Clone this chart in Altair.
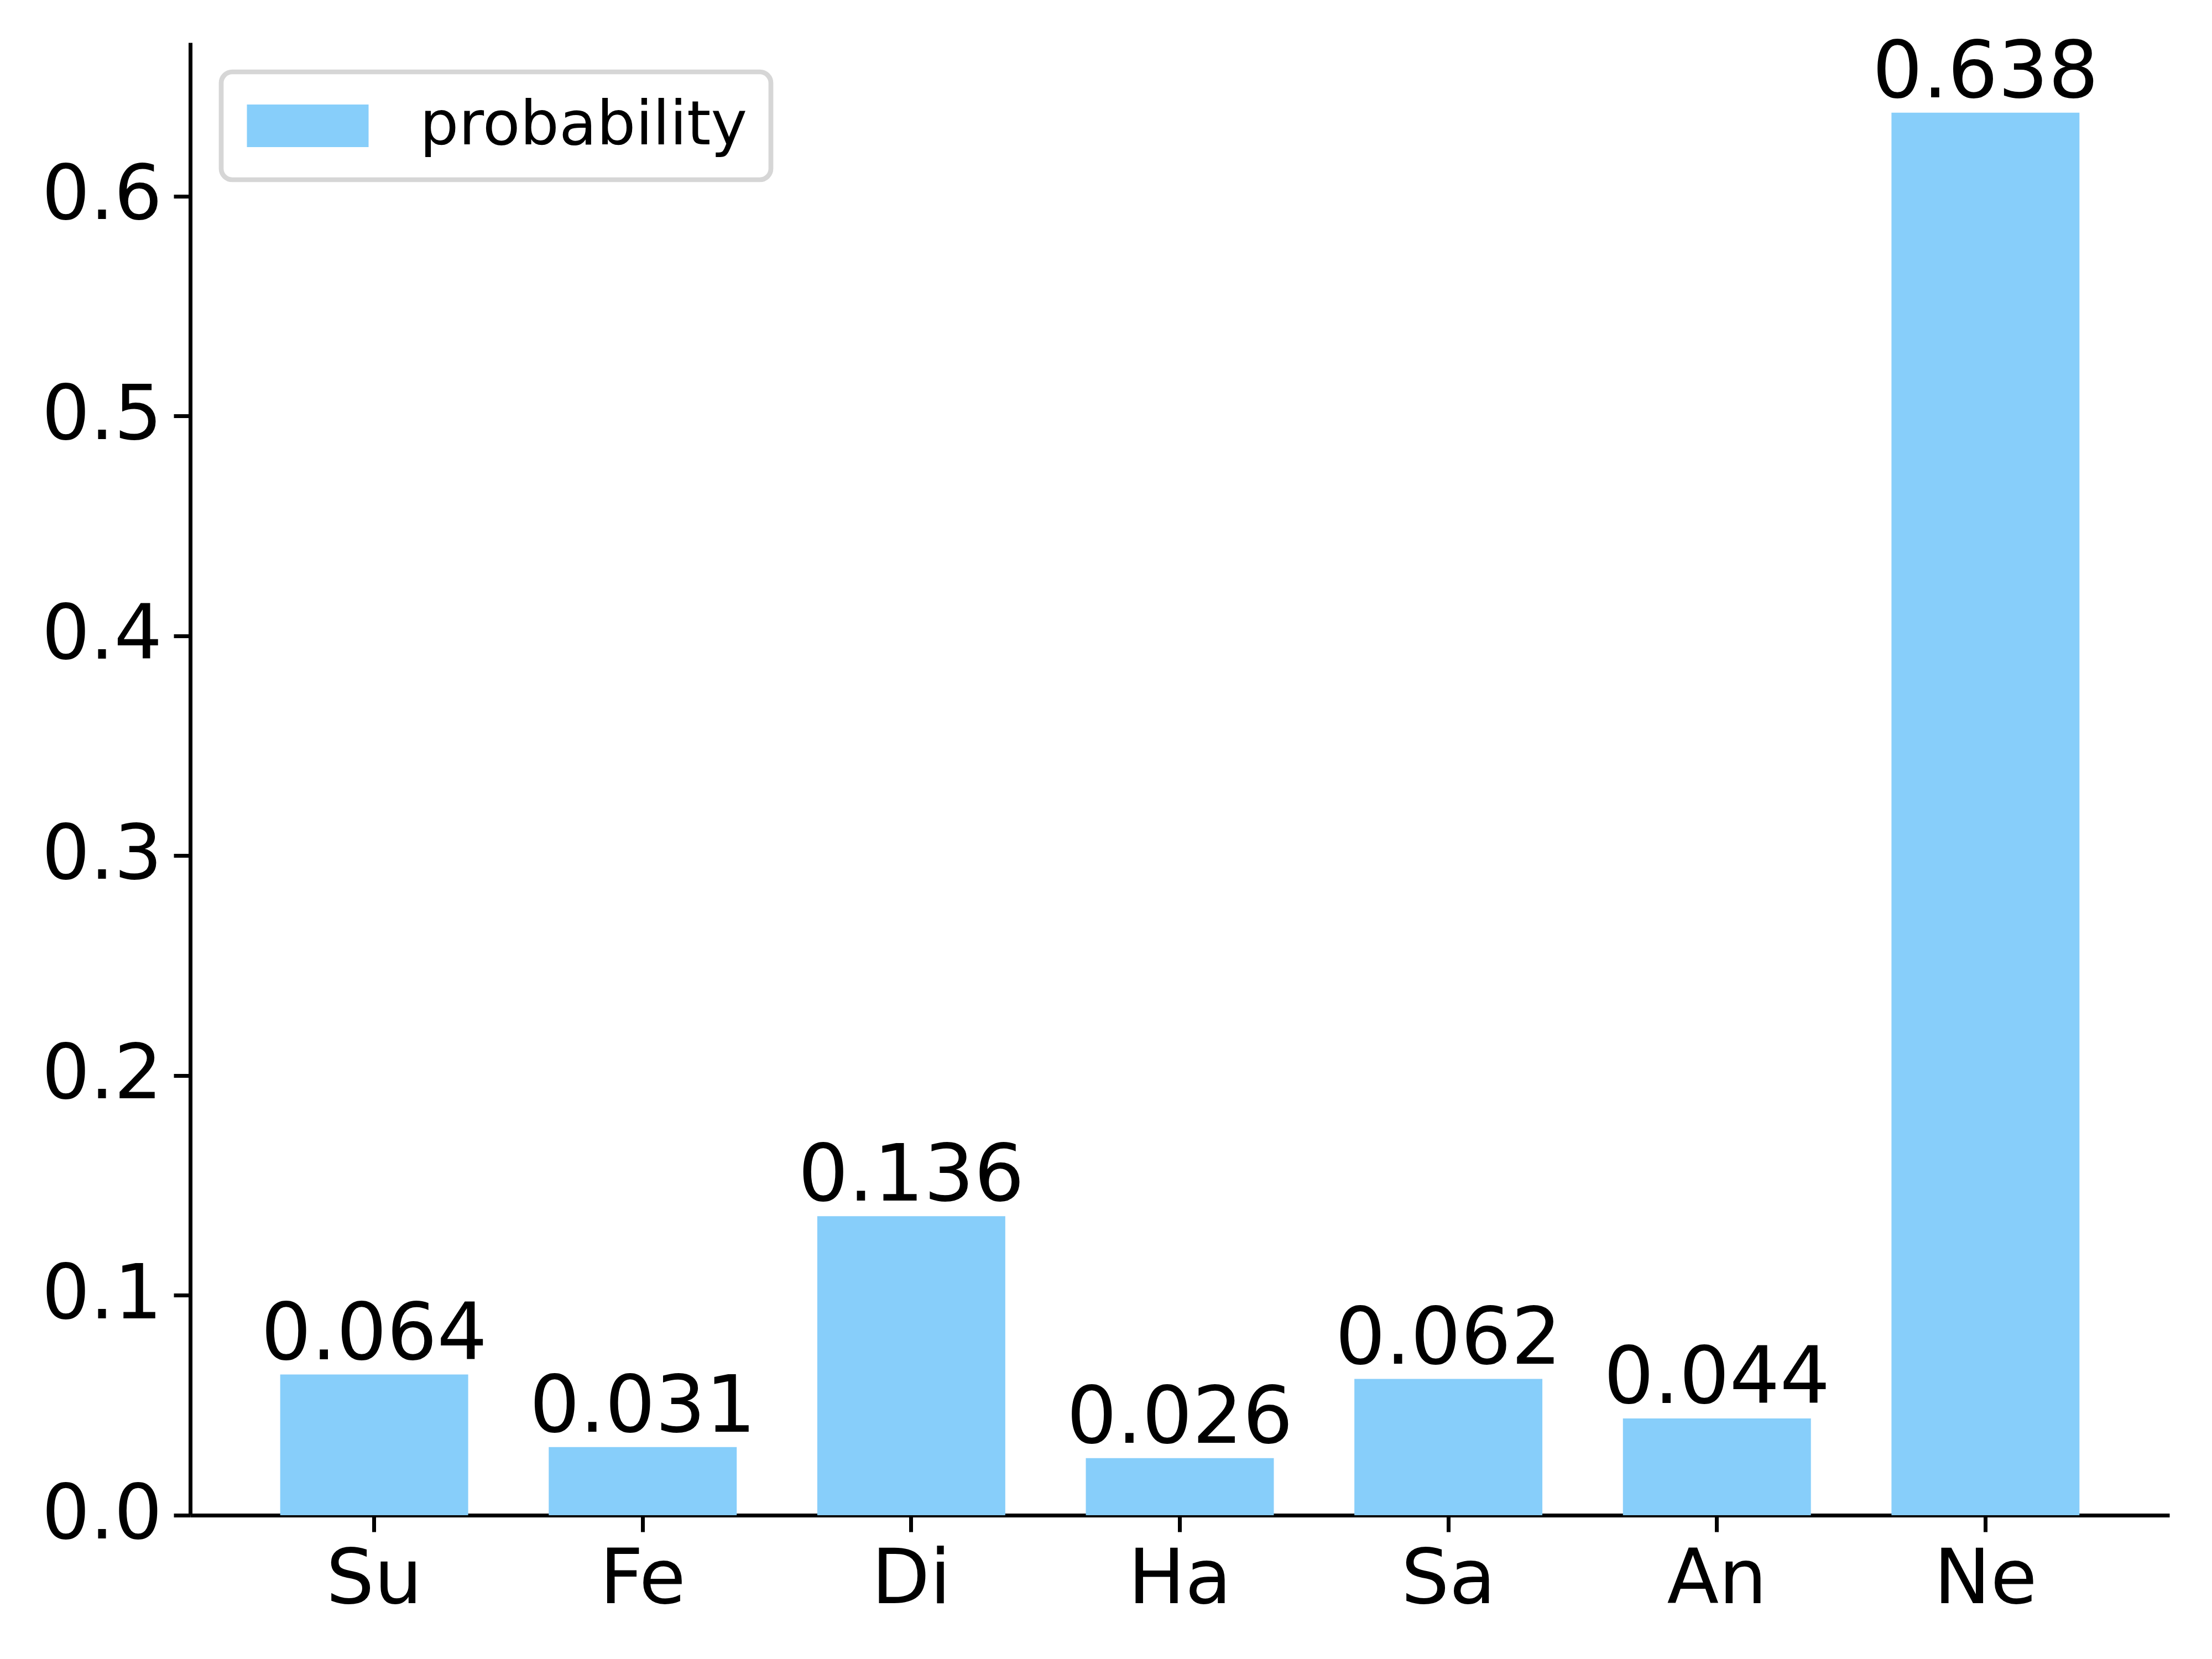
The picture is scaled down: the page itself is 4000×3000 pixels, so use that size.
import altair as alt
import pandas as pd

categories = ["Su", "Fe", "Di", "Ha", "Sa", "An", "Ne"]
probability = [0.064, 0.031, 0.136, 0.026, 0.062, 0.044, 0.638]
series_name = "probability"
y_ticks = [0.0, 0.1, 0.2, 0.3, 0.4, 0.5, 0.6]

df = pd.DataFrame({"cat": categories, "p": probability, "series": [series_name] * len(categories)})
df["label"] = [f"{v:.3f}" for v in probability]

FONT = "DejaVu Sans"
BAR = "#87CEFA"

x_enc = alt.X("cat:N", sort=categories, title=None,
              scale=alt.Scale(paddingInner=0.3, paddingOuter=0.335),
              axis=alt.Axis(labelAngle=0, labelFontSize=137, labelFont=FONT, labelColor="black",
                            labelLimit=0,
                            domainColor="black", domainWidth=7, tickColor="black", tickWidth=7,
                            tickSize=30, labelPadding=20, grid=False))
y_scale = alt.Scale(domain=[0, 0.6699], nice=False, zero=True)

bars = alt.Chart(df).mark_bar(color=BAR).encode(
    x=x_enc,
    y=alt.Y("p:Q", scale=y_scale, title=None,
            axis=alt.Axis(values=y_ticks, format=".1f", labelFontSize=137, labelFont=FONT,
                          labelLimit=0,
                          labelColor="black", domainColor="black", domainWidth=7,
                          tickColor="black", tickWidth=7, tickSize=30, labelPadding=21, grid=False)),
    color=alt.Color("series:N", scale=alt.Scale(range=[BAR]),
                    legend=alt.Legend(title=None, orient="none", legendX=56, legendY=53,
                                      symbolType="M-2,-0.7L2,-0.7L2,0.7L-2,0.7Z",
                                      symbolSize=12100, symbolStrokeWidth=0, symbolOpacity=1,
                                      symbolOffset=59,
                                      labelFontSize=111, labelFont=FONT, labelColor="black",
                                      labelLimit=0,
                                      labelOffset=147, padding=42, fillColor="white",
                                      strokeColor="#d6d6d6", cornerRadius=20)),
)

labels = alt.Chart(df).mark_text(font=FONT, fontSize=143, color="black", baseline="alphabetic",
                                 align="center", dy=-28).encode(
    x=alt.X("cat:N", sort=categories),
    y=alt.Y("p:Q", scale=y_scale),
    text="label:N",
)

chart = alt.layer(bars, labels).properties(
    width=3579, height=2663,
    autosize=alt.AutoSizeParams(type="none"),
    padding={"left": 336, "top": 69, "right": 69, "bottom": 252},
).configure_view(stroke=None).configure_legend(strokeWidth=8.7)

chart.save("out.html", embed_options={"renderer": "svg", "actions": False})
